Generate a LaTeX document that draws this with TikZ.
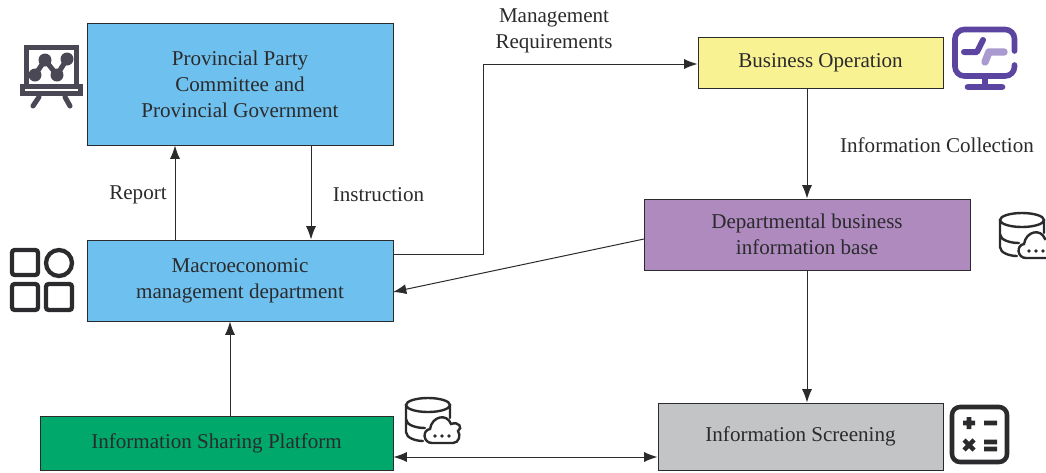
\documentclass[tikz,border=0pt]{standalone}
\usepackage{fontspec}
\setmainfont{Liberation Serif}
\usetikzlibrary{
    arrows.meta,
    calc,
}
\definecolor{inkgray}{HTML}{2B2A2C}
\definecolor{boxblue}{HTML}{6EC1EE}
\definecolor{boxyellow}{HTML}{F8F293}
\definecolor{boxpurple}{HTML}{AE8ABF}
\definecolor{boxgreen}{HTML}{00A96B}
\definecolor{boxgray}{HTML}{C3C4C6}
\definecolor{slateicon}{HTML}{4A4855}
\definecolor{violeticon}{HTML}{5B45A0}
\definecolor{lilacicon}{HTML}{A99AD0}

\begin{document}
\begin{tikzpicture}[x=0.75pt, y=-0.75pt, line width=0.75pt, inkgray,
    main/.style = {draw=inkgray, text=inkgray, inner sep=0pt, align=center, font=\fontsize{15.8}{19.5}\selectfont},
    tag/.style = {text=inkgray, inner sep=0pt, align=center, font=\fontsize{15.8}{19.5}\selectfont},
    link/.style = {draw=inkgray, -{Latex[length=10pt, width=7.5pt]}},
    dbcloud/.pic = {
        \draw[line width=1.8pt, line cap=round]
            (0,0) circle [x radius=22, y radius=7]
            (-22,0) -- (-22,27) .. controls (-22,33) and (-12,36) .. (-5,36)
            (-22,14) .. controls (-22,20) and (-12,23) .. (-3,23)
            (22,0) -- (22,13);
        \draw[line width=1.8pt, line cap=round]
            (4,38) .. controls (-5,38) and (-6,25) .. (2,24)
            .. controls (4,11) and (19,8) .. (23,19)
            .. controls (31,16) and (35,23) .. (30,26)
            .. controls (33,30) and (31,38) .. (25,38) -- cycle;
        \fill (7,31) circle (1.8) (14,31) circle (1.8) (21,31) circle (1.8);
    },
]
    \useasboundingbox (0,0) rectangle (1046,472);

    \node[main, fill=boxblue, minimum width=229.5pt, minimum height=91.5pt] (gov) at (240,84) {Provincial Party\\Committee and\\Provincial Government};
    \node[main, fill=boxblue, minimum width=229.5pt, minimum height=60.75pt] (macro) at (240,280.5) {Macroeconomic\\management department};
    \node[main, fill=boxgreen, minimum width=264.75pt, minimum height=40.5pt] (share) at (216.5,443) {Information Sharing Platform};
    \node[main, fill=boxyellow, minimum width=183.75pt, minimum height=38.25pt] (biz) at (820.5,62.5) {Business Operation};
    \node[main, fill=boxpurple, minimum width=244.5pt, minimum height=53.25pt] (dept) at (807,234.5) {Departmental business\\information base};
    \node[main, fill=boxgray, minimum width=213.75pt, minimum height=50.25pt] (screen) at (800.5,436.5) {Information Screening};

    \node[tag] (report) at (138,195) {Report};
    \node[tag] (instruction) at (378.5,195) {Instruction};
    \node[tag] (requirements) at (554,31) {Management\\Requirements};
    \node[tag] (collection) at (937,145) {Information Collection};

    \coordinate (upx) at (175,0);
    \coordinate (downx) at (311,0);
    \coordinate (sharex) at (230,0);
    \coordinate (deptx) at (807,0);
    \coordinate (turn) at (483,0);
    \coordinate (mgmty) at (0,254);
    \coordinate (bizy) at (0,64);
    \coordinate (duplexy) at (0,457);
    \coordinate (deptout) at (644,239);
    \coordinate (macroin) at (393,292);

    \draw[link] (upx |- macro.north) -- (upx |- gov.south);
    \draw[link] (downx |- gov.south) -- (downx |- macro.north);
    \draw[link] (macro.east |- mgmty) -- (turn |- mgmty) -- (turn |- bizy) -- (biz.west |- bizy);
    \draw[link] (deptx |- biz.south) -- (deptx |- dept.north);
    \draw[link] (deptout) -- (macroin);
    \draw[link] (deptx |- dept.south) -- (deptx |- screen.north);
    \draw[link] (sharex |- share.north) -- (sharex |- macro.south);
    \draw[link, {Latex[length=10pt, width=7.5pt]}-{Latex[length=10pt, width=7.5pt]}] (share.east |- duplexy) -- (screen.west |- duplexy);

    % board
    \draw[slateicon, line width=3.8pt] (26.5,85) -- (26.5,47.5) -- (76.5,47.5) -- (76.5,85);
    \draw[slateicon, line width=3.6pt] (22.5,86.5) rectangle (80.5,93.5);
    \draw[slateicon, line width=3.8pt, line cap=round] (39,97) -- (33,106) (65,97) -- (70,106);
    \draw[slateicon, line width=3.8pt] (35,75) -- (45,60) -- (57,75) -- (67,59);
    \fill[slateicon] (35,75) circle (6.5) (45,60) circle (6.5) (57,75) circle (6.5) (67,59) circle (6.5);

    % monitor
    \draw[violeticon, line width=4.2pt, line cap=round, rounded corners=7] (1014.5,65) -- (1014.5,76) -- (955,76) -- (955,29.5) -- (1014.5,29.5) -- (1014.5,51);
    \draw[violeticon, line width=4pt] (985,76) -- (985,87);
    \draw[violeticon, line width=5pt, line cap=round] (968,87) -- (1002,87);
    \draw[lilacicon, line width=5.6pt, line cap=round, line join=round] (985,62) -- (989,52) -- (1004,52);
    \draw[violeticon, line width=4.5pt, line cap=round, line join=round] (964,52) -- (977,52) -- (983,40);

    % grid
    \begin{scope}[line width=3.2pt, rounded corners=2]
        \draw (12,250) rectangle (38,275);
        \draw (12,284) rectangle (38,310);
        \draw (46,284) rectangle (72,310);
    \end{scope}
    \draw[line width=3.2pt] (59,263) circle (13);

    % calculator
    \draw[line width=3.4pt, rounded corners=6] (952,407) rectangle (1007,462);
    \draw[line width=3.4pt]
        (963,423) -- (975,423) (969,417) -- (969,429)
        (984,423) -- (997,423)
        (964,440) -- (974,450) (974,440) -- (964,450)
        (984,442) -- (997,442) (984,449) -- (997,449);

    \pic at (428,405) {dbcloud};
    \pic at (1022,220) {dbcloud};
\end{tikzpicture}
\end{document}
